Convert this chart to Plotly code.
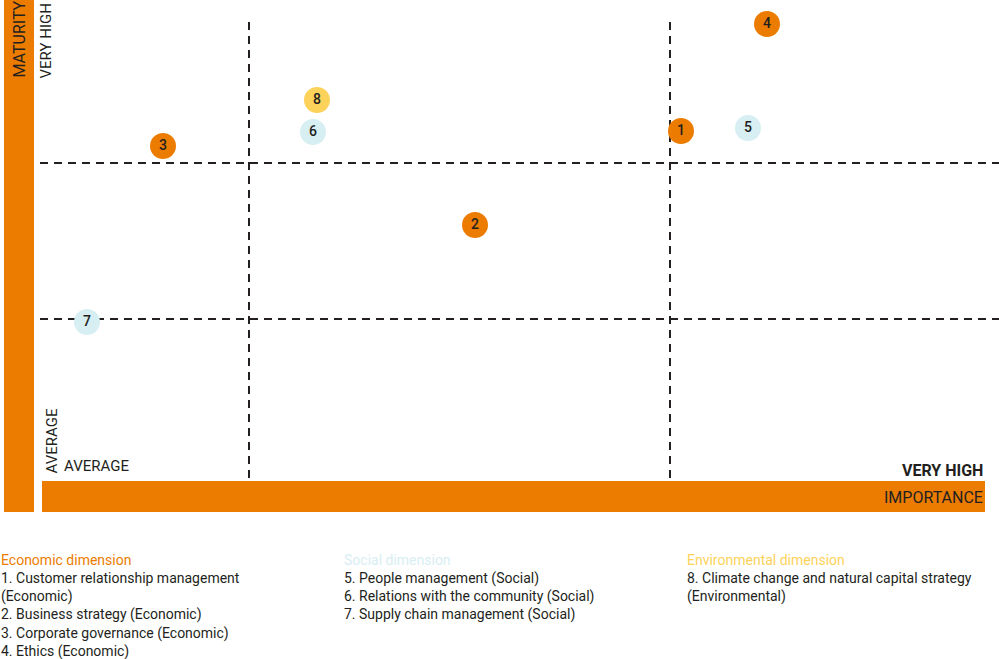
import plotly.graph_objects as go

# materiality matrix values (importance vs maturity, px-like scale of the drawing)
labels = ["1", "2", "3", "4", "5", "6", "7", "8"]
importance = [681, 475, 163, 767, 748, 313, 87, 317]
maturity = [528, 434, 513, 635, 531, 527, 337, 559]
dimension = ["Economic", "Economic", "Economic", "Economic", "Social", "Social", "Social", "Environmental"]

importance_cuts = [249, 670]
maturity_cuts = [496, 340]

dim_colors = {"Economic": "#ec7c00", "Social": "#d7eef2", "Environmental": "#fdd25a"}

economic_items = ["1. Customer relationship management<br>(Economic)", "2. Business strategy (Economic)",
                  "3. Corporate governance (Economic)", "4. Ethics (Economic)"]
social_items = ["5. People management (Social)", "6. Relations with the community (Social)",
                "7. Supply chain management (Social)"]
env_items = ["8. Climate change and natural capital strategy<br>(Environmental)"]

orange = "#ec7c00"
dark = "#231f20"
fnt = "Roboto"

fig = go.Figure()

# dashed quadrant lines
for xc in importance_cuts:
    fig.add_shape(type="line", x0=xc, x1=xc, y0=181, y1=643,
                  line=dict(color=dark, width=2, dash="8px,6px"), layer="below")
for yc in maturity_cuts:
    fig.add_shape(type="line", x0=40, x1=999, y0=yc, y1=yc,
                  line=dict(color=dark, width=2, dash="8px,6px"), layer="below")

# orange axis bars
fig.add_shape(type="rect", x0=4, x1=34, y0=147, y1=659, fillcolor=orange, line_width=0)
fig.add_shape(type="rect", x0=42, x1=985, y0=147, y1=178, fillcolor=orange, line_width=0)

fig.add_trace(go.Scatter(
    x=importance, y=maturity, mode="markers+text", text=labels,
    marker=dict(size=26, color=[dim_colors[d] for d in dimension], line_width=0, opacity=1),
    textposition="middle center",
    textfont=dict(family=fnt, size=14, color=dark, weight=500),
    hoverinfo="skip", showlegend=False,
))

fig.update_xaxes(range=[0, 999], visible=False, fixedrange=True)
fig.update_yaxes(range=[0, 659], visible=False, fixedrange=True)

ann = []
ann.append(dict(x=19, y=659, text="MATURITY", textangle=-90, xanchor="center", yanchor="top",
                font=dict(family=fnt, size=16, color=dark)))
ann.append(dict(x=45, y=656, text="VERY HIGH", textangle=-90, xanchor="center", yanchor="top",
                font=dict(family=fnt, size=15, color=dark)))
ann.append(dict(x=51, y=184, text="AVERAGE", textangle=-90, xanchor="center", yanchor="bottom",
                font=dict(family=fnt, size=15, color=dark)))
ann.append(dict(x=63, y=193, text="AVERAGE", xanchor="left", yanchor="middle",
                font=dict(family=fnt, size=15, color=dark)))
ann.append(dict(x=984, y=189, text="<b>VERY HIGH</b>", xanchor="right", yanchor="middle",
                font=dict(family=fnt, size=16, color=dark)))
ann.append(dict(x=984, y=162, text="IMPORTANCE", xanchor="right", yanchor="middle",
                font=dict(family=fnt, size=16, color=dark)))

# legend block under the chart
cols = [(0, "Economic dimension", dim_colors["Economic"], economic_items),
        (343, "Social dimension", dim_colors["Social"], social_items),
        (686, "Environmental dimension", dim_colors["Environmental"], env_items)]
for x0, title, col, items in cols:
    ann.append(dict(x=x0, y=659 - 551, text=title, xanchor="left", yanchor="top",
                    font=dict(family=fnt, size=14, color=col)))
    ann.append(dict(x=x0, y=659 - 569, text="<br>".join(items), xanchor="left", yanchor="top",
                    align="left", font=dict(family=fnt, size=14, color=dark)))

for a in ann:
    a.update(xref="x", yref="y", showarrow=False, borderpad=0)
fig.update_layout(annotations=ann)

fig.update_layout(
    width=999, height=659,
    margin=dict(l=0, r=0, t=0, b=0),
    plot_bgcolor="white", paper_bgcolor="white",
)

# the page body has a default 8px margin; drop it so the figure sits at the window corner
fig.write_html("out.html", config={"displayModeBar": False},
               post_script="document.body.style.margin='0';")
